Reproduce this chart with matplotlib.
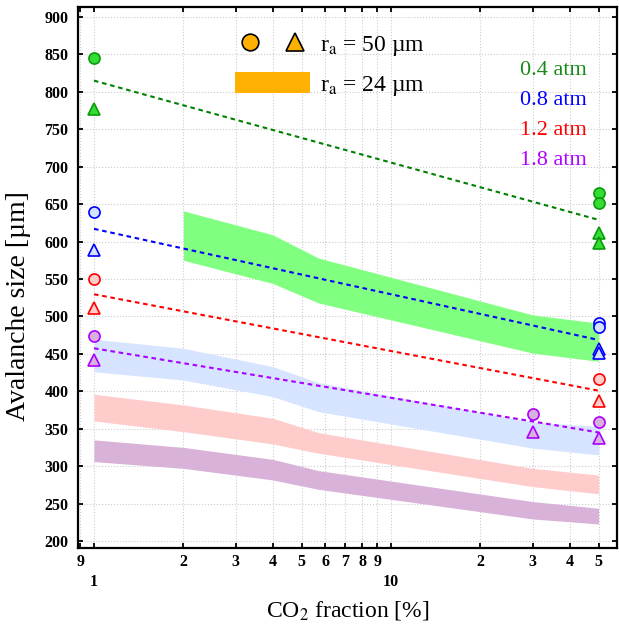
import matplotlib
matplotlib.use("Agg")
import matplotlib.pyplot as plt
from matplotlib.lines import Line2D
from matplotlib.patches import Patch
from matplotlib.legend_handler import HandlerTuple

plt.rcParams['font.family'] = ['Liberation Serif', 'DejaVu Serif']
plt.rcParams['mathtext.fontset'] = 'stix'

# pressures and their colours
pressures = ['0.4 atm', '0.8 atm', '1.2 atm', '1.8 atm']
line_cols = ['#008000', '#0000ff', '#ff0000', '#aa00ff']
text_cols = ['#168a16', '#0000ff', '#ff0000', '#b000ff']
face_cols = ['#33dd33', '#d2e2ff', '#ffcccc', '#d8b0dc']
band_cols = ['#80ff80', '#d6e4ff', '#ffcccc', '#d8b2d8']

# r_a = 50 um, circles
circ_x = [[1, 50, 50], [1, 50, 50], [1, 50], [1, 30, 50]]
circ_y = [[845, 665, 651], [639, 491, 486], [550, 416], [474, 369, 359]]
# r_a = 50 um, triangles
tri_x = [[1, 50, 50], [1, 50, 50], [1, 50], [1, 30, 50]]
tri_y = [[777, 611, 598], [589, 456, 451], [511, 387], [442, 345, 338]]

# dashed fits
fit_x = [1, 50]
fit_y = [[815, 629], [617, 468.5], [529.6, 400.8], [457.4, 345]]

# r_a = 24 um bands
band_x = [[2, 4, 5.7, 30, 50],
          [1, 2, 4, 5.7, 30, 50],
          [1, 2, 4, 5.7, 30, 50],
          [1, 2, 4, 5.7, 30, 50]]
band_hi = [[641, 609, 578, 502, 491],
           [469.5, 457.4, 432.9, 411.5, 359, 353],
           [396, 381.7, 364, 344.7, 297, 288],
           [335, 325, 309, 294, 252.6, 243.7]]
band_lo = [[575, 544, 518, 451, 440],
           [426, 415, 392.8, 372.8, 324, 315],
           [360.3, 346, 329.6, 317.2, 272.6, 263],
           [306, 297, 281.5, 269, 229.4, 222.7]]

major_x = [1, 10]
minor_x = [0.9, 2, 3, 4, 5, 6, 7, 8, 9, 20, 30, 40, 50]
minor_lab = ['9', '2', '3', '4', '5', '6', '7', '8', '9', '2', '3', '4', '5']
y_ticks = list(range(200, 901, 50))

fig = plt.figure(figsize=(6.19, 6.29), dpi=100)
ax = fig.add_axes([0.126, 0.1288, 0.8708, 0.8601])

for i in range(4):
    ax.fill_between(band_x[i], band_lo[i], band_hi[i], color=band_cols[i],
                    lw=0, zorder=1)
for i in range(4):
    ax.plot(fit_x, fit_y[i], color=line_cols[i], lw=1.5, dashes=(2.2, 1.8),
            zorder=2)
for i in range(4):
    ax.plot(circ_x[i], circ_y[i], 'o', ms=8, mfc=face_cols[i],
            mec=line_cols[i] if i else '#0a9a0a', mew=1.2, zorder=3)
    ax.plot(tri_x[i], tri_y[i], '^', ms=8.5, mfc=face_cols[i],
            mec=line_cols[i] if i else '#0a9a0a', mew=1.2, zorder=3)

ax.set_xscale('log')
ax.set_xlim(0.8834, 57.7)
ax.set_ylim(190.6, 913.4)

ax.set_xticks(major_x)
ax.set_xticklabels(['1', '10'])
ax.set_xticks(minor_x, minor=True)
ax.set_xticklabels(minor_lab, minor=True)
ax.set_yticks(y_ticks)
ax.tick_params(which='both', direction='in', top=True, right=True,
               length=3.5, width=1.3, labelsize=11.5)
ax.tick_params(axis='x', which='major', pad=19)
ax.tick_params(axis='x', which='minor', pad=4)
ax.tick_params(axis='y', pad=7)
for lab in ax.get_xticklabels(which='both') + ax.get_yticklabels():
    lab.set_fontweight('bold')
for s in ax.spines.values():
    s.set_linewidth(1.6)

ax.grid(True, which='both', axis='x', ls=':', color='#cccccc', lw=0.8)
ax.grid(True, which='major', axis='y', ls=':', color='#cccccc', lw=0.8)
ax.set_axisbelow(True)

ax.set_xlabel('CO$_2$ fraction [%]', fontsize=17, labelpad=6)
ax.set_ylabel('Avalanche size [µm]', fontsize=20)
ax.yaxis.set_label_coords(-0.088, 0.447)

# pressure labels
ys = [0.882, 0.828, 0.771, 0.717]
for i in range(4):
    ax.text(0.944, ys[i], pressures[i], transform=ax.transAxes, ha='right',
            va='center', fontsize=16, color=text_cols[i])

# legend
orange = '#ffb000'
h_c = Line2D([], [], ls='none', marker='o', ms=12, mfc=orange, mec='k', mew=1.2)
h_t = Line2D([], [], ls='none', marker='^', ms=13, mfc=orange, mec='k', mew=1.2)
h_b = Patch(facecolor=orange, edgecolor='none')
ax.legend([(h_c, h_t), h_b],
          ['r$_\\mathrm{a}$ = 50 µm', 'r$_\\mathrm{a}$ = 24 µm'],
          handler_map={tuple: HandlerTuple(ndivide=None, pad=0.64)},
          loc='upper left', bbox_to_anchor=(0.291, 0.952), frameon=False,
          fontsize=17, handlelength=3.18, handleheight=0.95, handletextpad=0.42,
          labelspacing=0.6, borderpad=0, borderaxespad=0)

fig.savefig('out.png', dpi=100)
